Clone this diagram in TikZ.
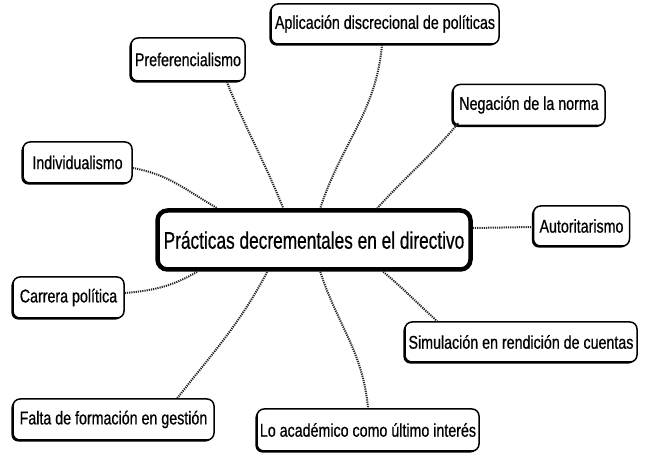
\documentclass[tikz,border=0pt]{standalone}
\usepackage{fontspec}
\newfontfamily\smallfont[FakeStretch=0.77,FakeBold=0.6]{Liberation Sans}
\newfontfamily\bigfont[FakeStretch=0.72,FakeBold=0.6]{Liberation Sans}
\usetikzlibrary{shadows}
\tikzset{
  leaf/.style={draw=black, line width=1.5pt, rounded corners=7pt, fill=white,
    inner sep=0pt, align=center, font=\smallfont\fontsize{18.5}{21}\selectfont,
    general shadow={fill=black, shadow xshift=-1.6pt, shadow yshift=-1.6pt}},
  hub/.style={draw=black, line width=4.5pt, rounded corners=10pt, fill=white,
    inner sep=0pt, align=center, font=\bigfont\fontsize{24}{28}\selectfont,
    general shadow={fill=black, shadow xshift=-1.2pt, shadow yshift=-1.2pt}},
  link/.style={draw=black!85, line width=2pt, dash pattern=on 1.2pt off 1pt}
}
\begin{document}
\begin{tikzpicture}[x=1pt,y=1pt]
\useasboundingbox (0,0) rectangle (669,468);
\fill[white] (0,0) rectangle (669,468);

\node[hub, minimum width=313pt, minimum height=59pt] (c) at (314,228) {Prácticas decrementales en el directivo};

\node[leaf, minimum width=228pt, minimum height=40pt] (apl) at (385,444) {Aplicación discrecional de políticas};
\node[leaf, minimum width=114pt, minimum height=43pt] (pref) at (188,408.5) {Preferencialismo};
\node[leaf, minimum width=152pt, minimum height=41pt] (neg) at (529,363) {Negación de la norma};
\node[leaf, minimum width=109pt, minimum height=41pt] (ind) at (77.5,305.5) {Individualismo};
\node[leaf, minimum width=96pt, minimum height=40pt] (aut) at (581.5,242) {Autoritarismo};
\node[leaf, minimum width=111pt, minimum height=41pt] (car) at (68.5,170.5) {Carrera política};
\node[leaf, minimum width=232pt, minimum height=40pt] (sim) at (521,126) {Simulación en rendición de cuentas};
\node[leaf, minimum width=201pt, minimum height=41pt] (fal) at (113.5,48.5) {Falta de formación en gestión};
\node[leaf, minimum width=222pt, minimum height=42pt] (aca) at (368,38) {Lo académico como último interés};

% connectors (top side)
\draw[link] ([yshift=-5.5pt]ind.east) to[out=-10, in=150] ([xshift=62pt]c.north west);
\draw[link] ([xshift=-19pt]pref.south east) to[out=-68, in=112] ([xshift=128pt]c.north west);
\draw[link] ([xshift=-3pt]apl.south) to[out=-95, in=72] ([xshift=165pt]c.north west);
\draw[link] ([xshift=6pt,yshift=3pt]neg.south west) to[out=-130, in=48] ([xshift=222pt]c.north west);
% right
\draw[link] ([yshift=12pt]c.east) -- ([yshift=-1pt]aut.west);
% bottom side
\draw[link] ([yshift=4.5pt]car.east) to[out=5, in=-150] ([xshift=42pt]c.south west);
\draw[link] ([xshift=165pt]fal.north west) to[out=52, in=-118] ([xshift=112pt]c.south west);
\draw[link] ([xshift=165pt]c.south west) to[out=-72, in=95] (aca.north);
\draw[link] ([xshift=228pt]c.south west) to[out=-40, in=138] ([xshift=33pt]sim.north west);
\end{tikzpicture}
\end{document}
